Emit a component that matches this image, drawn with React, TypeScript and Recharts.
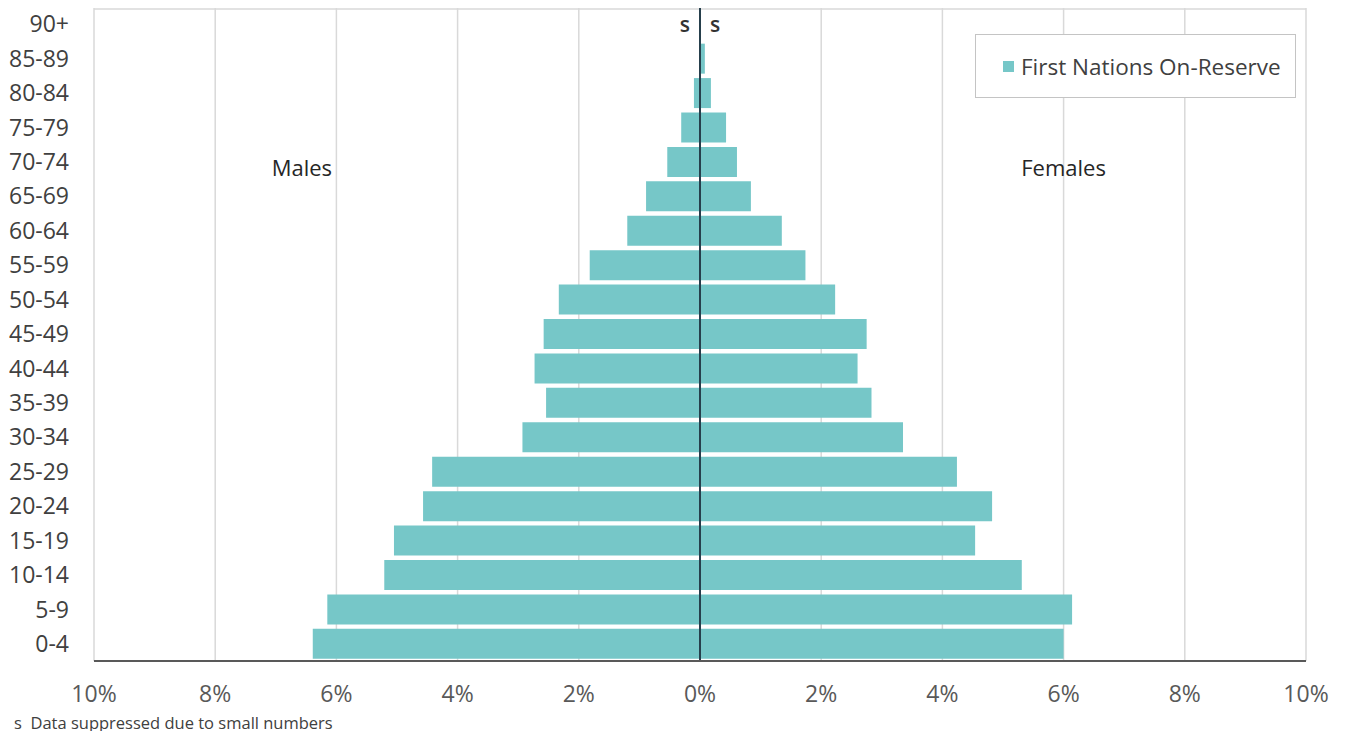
import React from 'react'
import {
    BarChart, Bar, XAxis, YAxis, CartesianGrid, Legend, ReferenceLine, ReferenceDot,
} from 'recharts'

// age groups, bottom to top
const ageGroups = ['0-4', '5-9', '10-14', '15-19', '20-24', '25-29', '30-34', '35-39', '40-44', '45-49',
    '50-54', '55-59', '60-64', '65-69', '70-74', '75-79', '80-84', '85-89', '90+']

// % of population (90+ suppressed)
const malePct: (number | null)[] = [6.39, 6.15, 5.21, 5.05, 4.57, 4.42, 2.93, 2.54, 2.73, 2.58,
    2.33, 1.82, 1.2, 0.89, 0.54, 0.31, 0.1, 0, null]
const femalePct: (number | null)[] = [6.0, 6.14, 5.31, 4.54, 4.82, 4.24, 3.35, 2.83, 2.6, 2.75,
    2.23, 1.74, 1.35, 0.84, 0.61, 0.43, 0.18, 0.08, null]

const xTicks = [-10, -8, -6, -4, -2, 0, 2, 4, 6, 8, 10]

const seriesName = 'First Nations On-Reserve'

const data = ageGroups.map((age, i) => ({
    age,
    males: malePct[i] == null ? null : -(malePct[i] as number),
    females: femalePct[i],
}))

const FONT = '"Open Sans", "Noto Sans", sans-serif'
const BAR = '#76c7c8'

const LegendBox = (props: any) => {
    const items = (props.payload || []).filter((p: any) => p.type !== 'none')
    return (
        <div style={{
            border: '1px solid #c4c4c4', width: 321, height: 64, boxSizing: 'border-box',
            display: 'flex', alignItems: 'center', paddingLeft: 27, background: '#fff',
        }}>
            {items.map((p: any) => (
                <div key={p.value} style={{ display: 'flex', alignItems: 'center' }}>
                    <span style={{ width: 11, height: 11, background: p.color, marginRight: 7 }} />
                    <span style={{ fontFamily: FONT, fontSize: 22.5, color: '#404040' }}>{p.value}</span>
                </div>
            ))}
        </div>
    )
}

const App = () => {
    return (
        <div style={{ position: 'relative', width: 1345, height: 739, margin: -8, background: '#fff' }}>
            <BarChart
                width={1345}
                height={739}
                data={data}
                layout="vertical"
                stackOffset="sign"
                barCategoryGap="6.5%"
                margin={{ top: 7, right: 39, left: 0, bottom: 0 }}
                style={{ fontFamily: FONT }}
            >
                {/* vertical grid + top frame line */}
                <CartesianGrid
                    stroke="#d9d9d9"
                    strokeWidth={1.5}
                    horizontalCoordinatesGenerator={(p: any) => [(p?.offset?.top ?? 7) + 2]}
                />
                <XAxis
                    type="number"
                    domain={[-10, 10]}
                    ticks={xTicks}
                    tickFormatter={(v: number) => `${Math.abs(v)}%`}
                    height={78}
                    tickSize={0}
                    tickMargin={25}
                    axisLine={{ stroke: '#595959', strokeWidth: 2 }}
                    tick={{ fontSize: 23, fill: '#595959' }}
                    interval={0}
                />
                <YAxis
                    type="category"
                    dataKey="age"
                    reversed
                    width={94}
                    tickSize={0}
                    tickMargin={25}
                    axisLine={false}
                    tick={{ fontSize: 23, fill: '#404040' }}
                    interval={0}
                />
                <Legend
                    layout="horizontal"
                    align="center"
                    verticalAlign="middle"
                    wrapperStyle={{ left: 975, top: 34, width: 321 }}
                    content={<LegendBox />}
                />
                <Bar dataKey="males" stackId="pop" fill={BAR} legendType="none" isAnimationActive={false} />
                <Bar dataKey="females" stackId="pop" fill={BAR} name={seriesName} isAnimationActive={false} />
                <ReferenceLine x={0} stroke="#263f4c" strokeWidth={2} />
                <ReferenceDot x={0} y="90+" r={0} stroke="none"
                    label={{ value: 's', position: 'left', offset: 10, fontSize: 21, fontWeight: 600, fill: '#333' }} />
                <ReferenceDot x={0} y="90+" r={0} stroke="none"
                    label={{ value: 's', position: 'right', offset: 10, fontSize: 21, fontWeight: 600, fill: '#333' }} />
                <ReferenceDot x={-6.57} y="70-74" r={0} stroke="none"
                    label={{ value: 'Males', position: 'center', dy: 6, fontSize: 22, fill: '#262626' }} />
                <ReferenceDot x={6.0} y="70-74" r={0} stroke="none"
                    label={{ value: 'Females', position: 'center', dy: 6, fontSize: 22, fill: '#262626' }} />
            </BarChart>
            <div style={{
                position: 'absolute', left: 14, top: 713, fontFamily: FONT, fontSize: 16.5,
                lineHeight: '20px', color: '#404040', whiteSpace: 'pre',
            }}>
                {'s  Data suppressed due to small numbers'}
            </div>
        </div>
    )
}

export default App
